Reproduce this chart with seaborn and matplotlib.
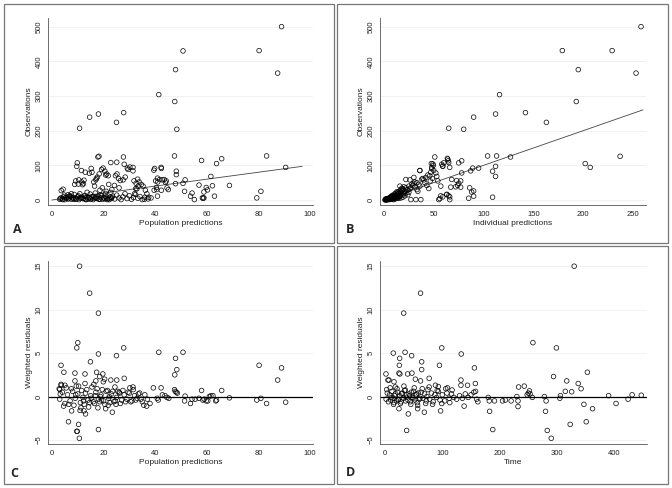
import matplotlib
matplotlib.use('Agg')
import matplotlib.pyplot as plt
import seaborn as sns
from matplotlib.patches import Rectangle

# Panel A: observations vs population predictions
a_pred = [89, 50.8, 80.3, 47.9, 87.5, 41.4, 47.6, 14.6, 18, 27.8,
          10.7, 25, 48.4, 18.2, 17.8, 27.7, 47.5, 83.2, 65.8, 58,
          63.8, 90.6, 9.8, 9.6, 22.8, 25.1, 28, 42.3, 39.5, 48.2,
          48.2, 61.6, 68.8, 31.4, 29.5, 31.4, 30.2, 59.8, 60.3, 58.9,
          57, 62.2, 51.6, 51.4, 54.3, 53.7, 55.2, 63, 58.3, 58.6,
          58.9, 79.4, 81, 40.9, 45.1, 42.4, 44, 43.5, 40.9, 41.8,
          40.5, 40.6, 44.6, 47.9, 44.3, 36.2, 37.5, 36.8, 34.6, 33.2,
          33.8, 35.3, 35.8, 32.5, 32, 15.2, 12.9, 11.4, 19.2, 19.8,
          20.5, 21.2, 21.8, 20.8, 17, 17.6, 18.3, 17.2, 14.5, 15.5,
          9.2, 10.4, 11.5, 12.4, 8.8, 10.2, 11.8, 12.2, 4.3, 3.6,
          24.6, 25.8, 26.5, 25.2, 27.6, 28.4, 31.8, 32.6, 33.4, 32.9,
          29.2, 16.2, 22, 39.8, 42.4, 40.2, 41, 42.8, 39.6, 50.8,
          16.5, 19.5, 18.6, 21, 6.2, 7.5, 13.6, 23.2, 24.2, 26,
          3.0, 3.5, 4.0, 4.5, 5.0, 5.5, 6.0, 6.5, 7.0, 7.5,
          8.0, 8.5, 9.0, 9.5, 10.0, 10.5, 11.0, 11.5, 12.0, 12.5,
          13.0, 13.5, 14.0, 14.5, 15.0, 15.5, 16.0, 16.5, 17.0, 17.5,
          18.0, 18.5, 19.0, 19.5, 20.0, 20.5, 21.0, 21.5, 22.0, 22.5,
          23.0, 23.5, 3.2, 4.2, 5.2, 6.2, 7.2, 8.2, 9.2, 10.2,
          11.2, 12.2, 13.2, 14.2, 15.2, 16.2, 17.2, 18.2, 19.2, 20.2,
          21.2, 22.2, 23.2, 24.3, 25.1, 26.0, 26.8, 27.5, 28.3, 29.1,
          30.0, 30.8, 31.6, 32.4, 33.3, 34.1, 35.0, 36.0, 37.2, 38.4,
          4.8, 6.8, 8.6, 10.8, 12.8, 14.8, 16.8, 18.8, 20.8, 22.8]
a_obs = [500, 430, 431, 376, 366, 304, 284, 239, 248, 252,
         207, 224, 204, 126, 124, 124, 127, 127, 119, 114,
         105, 94, 107, 97, 108, 109, 103, 94, 86, 83,
         73, 68, 42, 94, 88, 84, 95, 36, 29, 23,
         43, 41, 58, 25, 20, 11, 1, 11, 6, 5,
         6, 6, 25, 11, 30, 28, 51, 59, 63, 59,
         36, 30, 35, 47, 55, 28, 8, 18, 45, 60,
         52, 40, 2, 33, 18, 91, 80, 85, 88, 92,
         83, 75, 70, 72, 58, 66, 75, 62, 77, 80,
         55, 58, 52, 57, 45, 46, 44, 47, 31, 27,
         70, 62, 56, 75, 58, 66, 55, 48, 40, 32,
         92, 52, 45, 91, 91, 55, 52, 58, 28, 48,
         40, 35, 28, 25, 15, 18, 22, 30, 42, 35,
         2, 6, 3, 9, 1, 5, 8, 4, 11, 2,
         7, 2, 6, 3, 9, 1, 5, 8, 4, 11,
         2, 7, 2, 6, 3, 9, 1, 5, 8, 4,
         11, 2, 7, 2, 6, 3, 9, 1, 5, 8,
         4, 11, 4, 1, 7, 3, 10, 5, 2, 12,
         6, 4, 1, 7, 3, 10, 5, 2, 12, 6,
         4, 1, 7, 3, 14, 6, 1, 9, 18, 4,
         12, 2, 7, 16, 5, 10, 1, 8, 3, 6,
         14, 12, 16, 18, 13, 17, 20, 15, 19, 22]
a_line = [0, 97]

# Panel B: observations vs individual predictions
b_ipred = [258, 179, 229, 195, 253, 116, 193, 90, 112, 142,
           65, 163, 80, 237, 202, 207, 127, 104, 113, 112,
           109, 112, 95, 89, 87, 88, 85, 90, 109, 78,
           75, 78, 77, 74, 73, 68, 67, 66, 64, 65,
           60, 59, 66, 51, 49, 48, 55, 59, 63, 36,
           22, 27, 32, 37, 63.6, 64.5, 58, 59, 56, 57,
           46, 47, 48, 49.6, 47.5, 48.5, 46.5, 36, 30, 26,
           72, 75, 77, 54, 57, 39, 41, 43, 45, 33,
           35, 36, 16, 19, 21, 86, 90, 63, 65, 66,
           50, 52, 44, 42, 40, 38, 53, 31, 28, 25,
           24, 27, 29, 30, 31, 33, 34, 18, 20, 22,
           1, 1.5, 2, 2.5, 3, 3.5, 4, 4.5, 5, 5.5,
           6, 6.5, 7, 7.5, 8, 8.5, 9, 9.5, 10, 10.5,
           11, 11.5, 12, 12.5, 13, 13.5, 14, 14.5, 15, 16,
           2, 3, 4, 5, 6, 7, 8, 9, 10, 11,
           12, 13, 14, 15, 16, 17, 18, 19, 20, 21,
           1.5, 2.5, 3.5, 4.5, 5.5, 6.5, 7.5, 8.5, 9.5, 10.5,
           17, 18, 19, 20, 22, 23, 24, 25, 26, 12,
           14, 15, 13, 11, 9, 8, 7, 16, 17, 18]
b_obs = [500, 431, 431, 376, 366, 304, 284, 239, 248, 252,
         207, 224, 204, 126, 105, 94, 124, 127, 127, 97,
         83, 68, 92, 92, 84, 23, 5, 11, 8, 113,
         107, 78, 37, 42, 56, 59, 37, 1, 118, 108,
         107, 97, 94, 124, 104, 94, 1, 9, 16, 85,
         59, 1, 1, 1, 120, 113, 103, 98, 4, 12,
         70, 80, 90, 100, 105, 62, 55, 85, 65, 58,
         38, 48, 55, 55, 40, 62, 50, 42, 33, 50,
         45, 40, 40, 32, 25, 35, 26, 16, 12, 9,
         85, 78, 72, 65, 58, 60, 68, 52, 46, 40,
         30, 36, 42, 48, 38, 30, 25, 28, 22, 35,
         0, 2, 1, 3, 2, 4, 1, 5, 3, 6,
         4, 7, 2, 8, 5, 10, 3, 9, 6, 12,
         8, 14, 4, 11, 16, 7, 13, 18, 10, 15,
         3, 1, 3, 2, 6, 5, 9, 7, 11, 3,
         13, 9, 6, 20, 11, 22, 14, 8, 18, 12,
         1, 0, 2, 3, 1, 4, 3, 6, 1, 8,
         6, 25, 30, 38, 20, 28, 15, 22, 32, 20,
         22, 5, 24, 18, 14, 12, 10, 26, 30, 34]
b_line = [0, 260]

# Panel C: weighted residuals vs population predictions
c_pred = [10.7, 14.6, 18, 10, 9.6, 27.8, 18, 41.4, 50.8, 25,
          47.9, 14.9, 3.5, 80.3, 89, 48.4, 4.6, 8.9, 12.8, 17.3,
          19.7, 47.6, 18.5, 28, 20.4, 25.1, 22.8, 87.5, 8.9, 19.9,
          17, 12.8, 16.2, 3.5, 5, 9.4, 10.3, 31.4, 24.4, 42.3,
          39.3, 65.8, 58, 47.5, 68.8, 79.4, 81, 83.2, 90.6, 63.8,
          59.8, 61.6, 62.4, 57, 54.3, 53.7, 51.6, 51.4, 36.7, 35.6,
          20.8, 23.4, 13, 12.4, 10.9, 7.6, 6.4, 10.3, 9.6, 9.8,
          18, 10.6, 48.2, 48.6, 47.8, 59, 60.4, 3, 3.2, 2.8,
          63.5, 58.5, 61, 55.5, 44.6, 45.3, 43.8, 42.8, 41.2, 40.8,
          3, 4, 5, 6, 7, 8, 9, 10, 11, 12,
          13, 14, 15, 16, 17, 18, 19, 20, 21, 22,
          23, 24, 25, 26, 27, 28, 29, 30, 31, 32,
          33, 34, 35, 36, 37, 38, 3.6, 4.5, 5.5, 6.5,
          7.5, 8.5, 11.5, 12.5, 13.5, 14.5, 15.5, 16.5, 17.5, 18.5,
          19.5, 20.5, 21.5, 22.5, 23.5, 24.5, 25.5, 26.5, 27.5, 28.5,
          29.5, 30.5, 31.5, 32.5, 33.5, 34.5, 11.2, 14.2, 17.8, 21.8,
          15.2, 16.8, 19.2, 22.2, 9.2, 12.2, 30.2, 26.2, 24.8, 18.8]
c_wres = [15, 11.9, 9.6, 6.2, 5.6, 5.6, 4.9, 5.1, 5.1, 4.7,
          4.4, 4, 3.6, 3.6, 3.3, 3.1, 2.8, 2.7, 2.6, 2.8,
          2.6, 2.5, 2.3, 2.1, 2, 1.9, 1.9, 1.9, 1.8, 1.7,
          1.8, 1.5, 1.4, 1.4, 1.3, 1.2, 1.2, 1.1, 1.1, 1,
          1, 0.7, 0.7, 0.8, -0.15, -0.4, -0.2, -0.8, -0.65, -0.4,
          -0.5, 0.1, 0.1, -0.2, -0.3, -0.8, 0.05, -0.5, -1.1, -1,
          -1.4, -1.8, -2, -1.65, -1.6, -1.65, -2.9, -3.2, -4, -4,
          -3.8, -4.8, 0.5, 0.4, 0.6, -0.3, -0.5, 0.8, 0.3, 0.9,
          -0.5, -0.4, 0, -0.3, -0.1, -0.2, 0.1, 0.2, -0.4, -0.2,
          -0.3, 0.5, -0.8, 0.2, -0.5, 0.6, -0.2, 0.3, -0.7, -0.1,
          0.4, -0.4, 0.1, -0.6, 0.5, -0.3, 0.2, -0.5, 0.6, -0.2,
          0.3, -0.6, -0.1, 0.5, -0.4, 0.2, -0.3, 0.4, -0.5, 0.1,
          -0.2, 0.4, -0.6, 0.2, -0.3, -0.8, 1.3, -1.1, 1.0, -0.9,
          0.9, -1.0, 0.7, -0.9, 0.8, -0.7, 1.1, -0.8, 0.9, -0.6,
          0.8, -0.9, 0.7, -0.7, 0.6, -0.5, 0.6, -0.8, 0.7, -0.6,
          0.5, -0.6, 0.8, -0.4, 0.3, -0.3, -1.3, -1.2, -1.3, -1.0,
          -0.2, 0.1, -0.4, 0.0, 0.2, -0.5, 1.0, 0.4, -0.9, 0.0]

# Panel D: weighted residuals vs time
d_time = [330, 62, 32.6, 258, 299, 99, 14.5, 35, 133, 46.5,
          25.6, 64, 25, 95, 156, 64, 353, 1.7, 24.4, 26,
          39.5, 47, 294, 53, 5.2, 7, 77, 132.5, 317, 15.7,
          62, 157.6, 337, 132.5, 88, 93, 144, 233, 243, 109,
          342, 18, 314.5, 252, 325.6, 158, 117, 35.5, 253, 390,
          431, 447, 424, 347, 403, 362, 280, 182.5, 232, 138,
          97, 68.6, 57, 24.4, 40.7, 351, 323, 188, 283, 37.8,
          290, 257, 278, 281, 305, 306, 230, 232, 180, 182,
          191, 205, 210, 220, 250, 248, 160, 162, 155, 150,
          2, 4, 6, 8, 10, 12, 14, 16, 18, 20,
          22, 24, 26, 28, 30, 32, 34, 36, 38, 40,
          42, 44, 46, 48, 50, 52, 54, 56, 58, 60,
          63, 66, 69, 72, 75, 78, 81, 84, 87, 90,
          93, 96, 100, 104, 108, 112, 116, 120, 125, 130,
          135, 140, 145, 3, 9, 15, 21, 27, 33, 45,
          51, 57, 65, 71, 77, 83, 91, 99, 106, 113,
          11, 17, 23, 29, 37, 43, 49, 55, 61, 73]
d_wres = [15, 11.9, 9.6, 6.2, 5.6, 5.6, 5, 5.1, 4.9, 4.7,
          4.4, 4, 3.6, 3.6, 3.3, 3.1, 2.8, 2.6, 2.7, 2.6,
          2.6, 2.7, 2.3, 2, 1.9, 1.9, 2.1, 1.9, 1.8, 1.7,
          1.8, 1.5, 1.5, 1.3, 1.3, 1.15, 1.3, 1.1, 1.2, 1,
          0.9, 1.1, 0.6, 0.65, 0.55, 0.6, 0.75, 0.75, 0.3, 0.1,
          0.2, 0.15, -0.3, -0.9, -0.8, -1.4, -1.7, -1.7, -1.15, -1.1,
          -1.65, -1.8, -1.4, -1.4, -2, -2.9, -3.2, -3.8, -3.9, -3.9,
          -4.8, -0.1, 0, -0.5, -0.2, 0.1, 0, -0.5, -0.1, -0.5,
          -0.5, -0.5, -0.4, -0.5, 0.4, 0.2, -0.3, -0.6, 0.5, 0.2,
          -0.3, 0.4, -0.6, 0.2, -0.4, 0.6, -0.2, -0.7, 0.3, -0.5,
          0.5, -0.3, 0.1, -0.6, 0.4, -0.2, 0.7, -0.5, 0.2, -0.4,
          0.3, -0.6, 0.5, -0.1, 0.6, -0.4, 0.2, -0.7, 0.4, -0.3,
          0.5, -0.2, 0.3, -0.5, 0.8, -0.3, 0.4, -0.6, 0.2, -0.1,
          0.6, -0.4, 0.2, -0.5, 0.4, -0.2, 0.3, -0.1, -0.3, 0.1,
          -0.2, 0.3, -0.1, 0.8, 1.0, -0.9, 0.9, -0.8, 1.2, -0.9,
          1.0, -1.0, 0.9, -0.8, 1.1, -0.9, 0.7, -0.8, 0.9, -0.7,
          -0.1, 0.1, -0.4, 0.3, -0.1, 0.1, -0.2, 0.3, -0.2, 0.0]

sns.set_style('white')
plt.rcParams['font.family'] = ['Liberation Sans', 'DejaVu Sans']

fig = plt.figure(figsize=(6.72, 4.88), dpi=100)
W, H = 672, 488


def px_axes(left, top, right, bottom):
    return fig.add_axes([left / W, 1 - bottom / H, (right - left) / W, (bottom - top) / H])


def style(ax, xticks, yticks, xlabel, ylabel):
    ax.set_xticks(xticks)
    ax.set_yticks(yticks)
    for t in yticks:
        ax.axhline(t, color='#ececec', lw=0.5, zorder=0)
    ax.tick_params(axis='both', direction='out', length=3, width=0.5, color='#555555',
                   labelsize=5.5, pad=1, labelcolor='#222222')
    ax.tick_params(axis='y', labelrotation=90)
    for lab in ax.get_yticklabels():
        lab.set_va('center')
    for s in ['top', 'right']:
        ax.spines[s].set_visible(False)
    for s in ['left', 'bottom']:
        ax.spines[s].set_color('#555555')
        ax.spines[s].set_linewidth(0.6)
    ax.set_xlabel(xlabel, fontsize=6, labelpad=1.5, color='#222222')
    ax.set_ylabel(ylabel, fontsize=6, labelpad=2, color='#222222')


def circles(ax, x, y):
    sns.scatterplot(x=x, y=y, ax=ax, s=11, facecolors='none', edgecolor='black',
                    linewidth=0.5, zorder=3)


axA = px_axes(48, 18, 313, 205)
circles(axA, a_pred, a_obs)
axA.plot(a_line, a_line, color='#444444', lw=0.6, zorder=2)
axA.set_xlim(-1.55, 101.2)
axA.set_ylim(-14.5, 525)
style(axA, [0, 20, 40, 60, 80, 100], [0, 100, 200, 300, 400, 500],
      'Population predictions', 'Observations')

axB = px_axes(380, 18, 646, 205)
circles(axB, b_ipred, b_obs)
axB.plot(b_line, b_line, color='#444444', lw=0.6, zorder=2)
axB.set_xlim(-4, 263)
axB.set_ylim(-14.5, 525)
style(axB, [0, 50, 100, 150, 200, 250], [0, 100, 200, 300, 400, 500],
      'Individual predictions', 'Observations')

axC = px_axes(48, 261, 313, 444)
circles(axC, c_pred, c_wres)
axC.axhline(0, color='black', lw=0.9, zorder=2)
axC.set_xlim(-1.55, 101.2)
axC.set_ylim(-5.46, 15.6)
style(axC, [0, 20, 40, 60, 80, 100], [-5, 0, 5, 10, 15],
      'Population predictions', 'Weighted residuals')

axD = px_axes(380, 261, 647, 444)
circles(axD, d_time, d_wres)
axD.axhline(0, color='black', lw=0.9, zorder=2)
axD.set_xlim(-8.7, 457)
axD.set_ylim(-5.46, 15.6)
style(axD, [0, 100, 200, 300, 400], [-5, 0, 5, 10, 15],
      'Time', 'Weighted residuals')

# panel frames and letters
for (l, t, r, b) in [(4, 4, 334, 243), (337, 4, 668, 243), (4, 246, 334, 484), (337, 246, 668, 484)]:
    fig.add_artist(Rectangle((l / W, 1 - b / H), (r - l) / W, (b - t) / H,
                             transform=fig.transFigure, fill=False,
                             edgecolor='#777777', lw=0.9))
for letter, x, y in [('A', 13, 233), ('B', 346, 233), ('C', 10, 477), ('D', 346, 476)]:
    fig.text(x / W, 1 - y / H, letter, fontsize=9, fontweight='bold',
             family=['Open Sans', 'DejaVu Sans'], va='baseline', ha='left')

fig.savefig('out.png', dpi=100)
